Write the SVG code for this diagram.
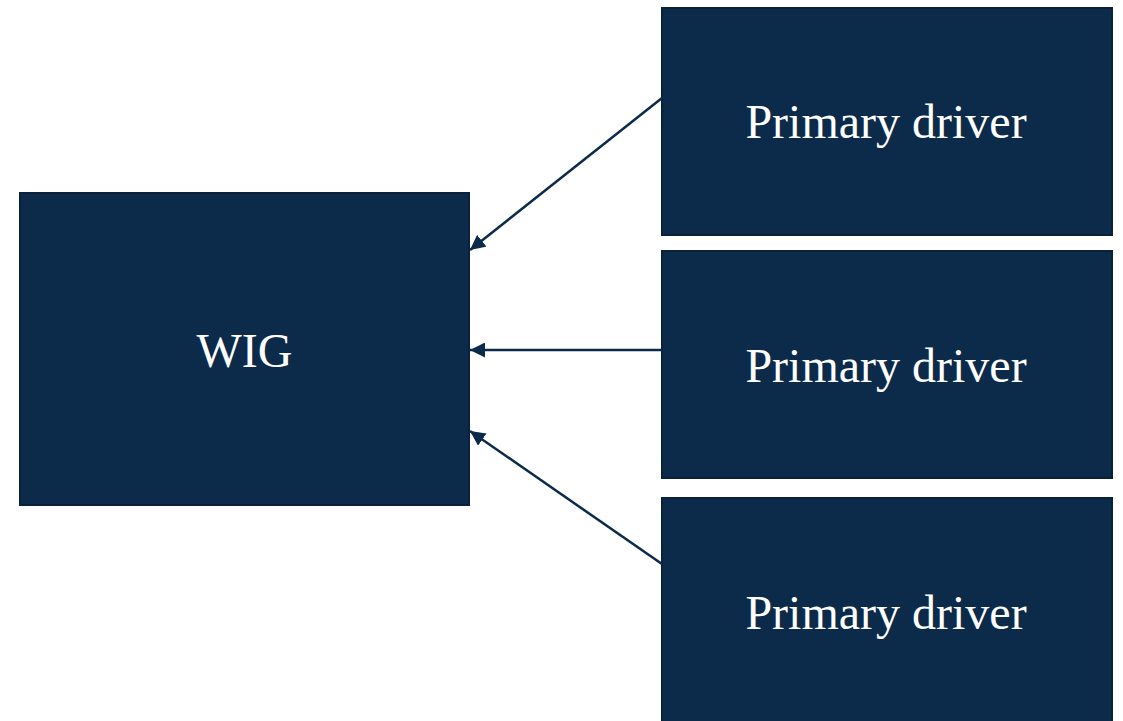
<svg xmlns="http://www.w3.org/2000/svg" width="1123" height="721" viewBox="0 0 1123 721">
<style>
.box{fill:#0c2a4a;stroke:#09213b;stroke-width:2}
.lbl{font-family:"Liberation Serif","Times New Roman",serif;font-size:48px;fill:#ffffff;text-anchor:middle}
.conn{stroke:#0c2a4a;stroke-width:2.5;fill:none}
</style>
<defs>
<marker id="arr" viewBox="0 0 10 10" refX="10" refY="5" markerWidth="6" markerHeight="6" markerUnits="strokeWidth" orient="auto">
<path d="M0,0 L10,5 L0,10 Z" fill="#0c2a4a"/>
</marker>
</defs>
<rect width="1123" height="721" fill="#ffffff"/>
<g id="wig">
<rect class="box" x="20" y="193" width="449" height="312"/>
<text class="lbl" x="244.5" y="367">WIG</text>
</g>
<g id="driver1">
<rect class="box" x="662" y="8" width="450" height="227"/>
<text class="lbl" x="886" y="138">Primary driver</text>
</g>
<g id="driver2">
<rect class="box" x="662" y="251" width="450" height="227"/>
<text class="lbl" x="886" y="382">Primary driver</text>
</g>
<g id="driver3">
<rect class="box" x="662" y="498" width="450" height="227"/>
<text class="lbl" x="886" y="629">Primary driver</text>
</g>
<g id="connectors">
<line class="conn" x1="662" y1="98" x2="470" y2="250" marker-end="url(#arr)"/>
<line class="conn" x1="662" y1="350" x2="470" y2="350" marker-end="url(#arr)"/>
<line class="conn" x1="662" y1="564" x2="470" y2="431" marker-end="url(#arr)"/>
</g>
</svg>
